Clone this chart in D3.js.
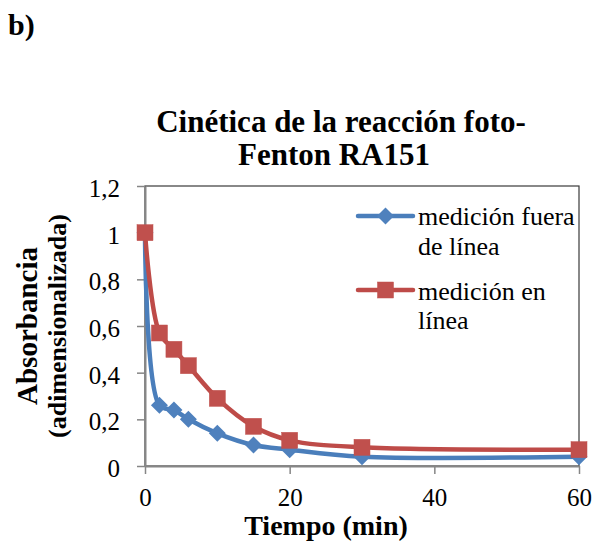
<!DOCTYPE html>
<html><head><meta charset="utf-8">
<script src="https://cdn.jsdelivr.net/npm/d3@7"></script>
<style>body{margin:0;background:#fff}svg{display:block}</style>
</head><body>
<script>
const times = [0, 2, 4, 6, 10, 15, 20, 30, 60];
const offlineValues = [1.0, 0.26, 0.24, 0.20, 0.14, 0.09, 0.07, 0.04, 0.04];
const onlineValues = [1.0, 0.57, 0.50, 0.43, 0.29, 0.17, 0.11, 0.08, 0.07];
const seriesNames = ["medición fuera de línea", "medición en línea"];
const xTicks = [0, 20, 40, 60];
const yTicks = [0, 0.2, 0.4, 0.6, 0.8, 1.0, 1.2];
const titleLines = ["Cinética de la reacción foto-", "Fenton RA151"];

const W = 594, H = 546;
const FONT = "Liberation Serif";
const svg = d3.select("body").append("svg").attr("width", W).attr("height", H)
  .style("font-family", FONT);

const x = d3.scaleLinear().domain([0, 60]).range([145, 579]);
const y = d3.scaleLinear().domain([0, 1.2]).range([466, 186]);

// b) label
svg.append("text").attr("x", 8).attr("y", 35).style("font-family", FONT)
  .attr("font-weight", "bold").attr("font-size", 30).text("b)");

// title
svg.append("text").attr("x", 341).attr("y", 132).attr("text-anchor", "middle")
  .style("font-family", FONT).attr("font-weight", "bold").attr("font-size", 31).text(titleLines[0]);
svg.append("text").attr("x", 334).attr("y", 165).attr("text-anchor", "middle")
  .style("font-family", FONT).attr("font-weight", "bold").attr("font-size", 31).text(titleLines[1]);

// plot border (top/right)
svg.append("rect").attr("x", x(0)).attr("y", y(1.2)).attr("width", x(60) - x(0))
  .attr("height", y(0) - y(1.2)).attr("fill", "none").attr("stroke", "#3a3a3a").attr("stroke-width", 1.2);

const fmt = v => (Math.round(v * 10) / 10).toString().replace(".", ",");

// y axis
const gy = svg.append("g").attr("transform", `translate(${x(0)},0)`)
  .call(d3.axisLeft(y).tickValues(yTicks).tickFormat(fmt).tickSizeInner(8).tickSizeOuter(0).tickPadding(17));
gy.attr("font-family", null);
gy.select(".domain").attr("stroke", "#868686").attr("stroke-width", 2);
gy.selectAll(".tick line").attr("stroke", "#868686").attr("stroke-width", 1.5);
gy.selectAll(".tick text").style("font-family", FONT).attr("font-size", 25).attr("fill", "#000").attr("dy", "0.42em");

// x axis
const gx = svg.append("g").attr("transform", `translate(0,${y(0)})`)
  .call(d3.axisBottom(x).tickValues(xTicks).tickFormat(d => d).tickSizeInner(8).tickSizeOuter(0).tickPadding(14));
gx.attr("font-family", null);
gx.select(".domain").attr("stroke", "#868686").attr("stroke-width", 2);
gx.selectAll(".tick line").attr("stroke", "#868686").attr("stroke-width", 1.5);
gx.selectAll(".tick text").style("font-family", FONT).attr("font-size", 25).attr("fill", "#000");

// axis titles
svg.append("text").attr("x", 326).attr("y", 535).attr("text-anchor", "middle")
  .style("font-family", FONT).attr("font-weight", "bold").attr("font-size", 28).text("Tiempo (min)");
svg.append("text").attr("transform", "translate(37,326) rotate(-90)").attr("text-anchor", "middle")
  .style("font-family", FONT).attr("font-weight", "bold").attr("font-size", 29).text("Absorbancia");
svg.append("text").attr("transform", "translate(66,326) rotate(-90)").attr("text-anchor", "middle")
  .style("font-family", FONT).attr("font-weight", "bold").attr("font-size", 26).text("(adimensionalizada)");

const line = d3.line().x(d => x(d[0])).y(d => y(d[1])).curve(d3.curveCatmullRom.alpha(0.5));
const series = [
  { vals: offlineValues, line: "#4A7EBB", fill: "#4F81BD", shape: "diamond" },
  { vals: onlineValues, line: "#BE4B48", fill: "#C0504D", shape: "square" }
];
function marker(g, shape, fill, cx, cy) {
  if (shape === "square") {
    g.append("rect").attr("x", cx - 8).attr("y", cy - 8).attr("width", 16).attr("height", 16)
      .attr("fill", fill).attr("stroke", fill).attr("stroke-width", 0.5);
  } else {
    g.append("path").attr("d", `M${cx},${cy - 8.5}L${cx + 8.5},${cy}L${cx},${cy + 8.5}L${cx - 8.5},${cy}Z`)
      .attr("fill", fill);
  }
}
series.forEach(s => {
  const pts = times.map((t, i) => [t, s.vals[i]]);
  const g = svg.append("g");
  g.append("path").attr("d", line(pts)).attr("fill", "none").attr("stroke", s.line)
    .attr("stroke-width", 4.5).attr("stroke-linejoin", "round").attr("stroke-linecap", "round");
  pts.forEach(p => marker(g, s.shape, s.fill, x(p[0]), y(p[1])));
});

// legend
const legend = [
  { lines: ["medición fuera", "de línea"], ly: 216, base: [225, 255], s: series[0] },
  { lines: ["medición en", "línea"], ly: 290, base: [300, 329], s: series[1] }
];
legend.forEach(l => {
  const g = svg.append("g");
  g.append("line").attr("x1", 358).attr("x2", 413).attr("y1", l.ly).attr("y2", l.ly)
    .attr("stroke", l.s.line).attr("stroke-width", 4.5).attr("stroke-linecap", "round");
  marker(g, l.s.shape, l.s.fill, 385.5, l.ly);
  l.lines.forEach((t, i) => g.append("text").attr("x", 418).attr("y", l.base[i])
    .style("font-family", FONT).attr("font-size", 26).text(t));
});
</script>
</body></html>
